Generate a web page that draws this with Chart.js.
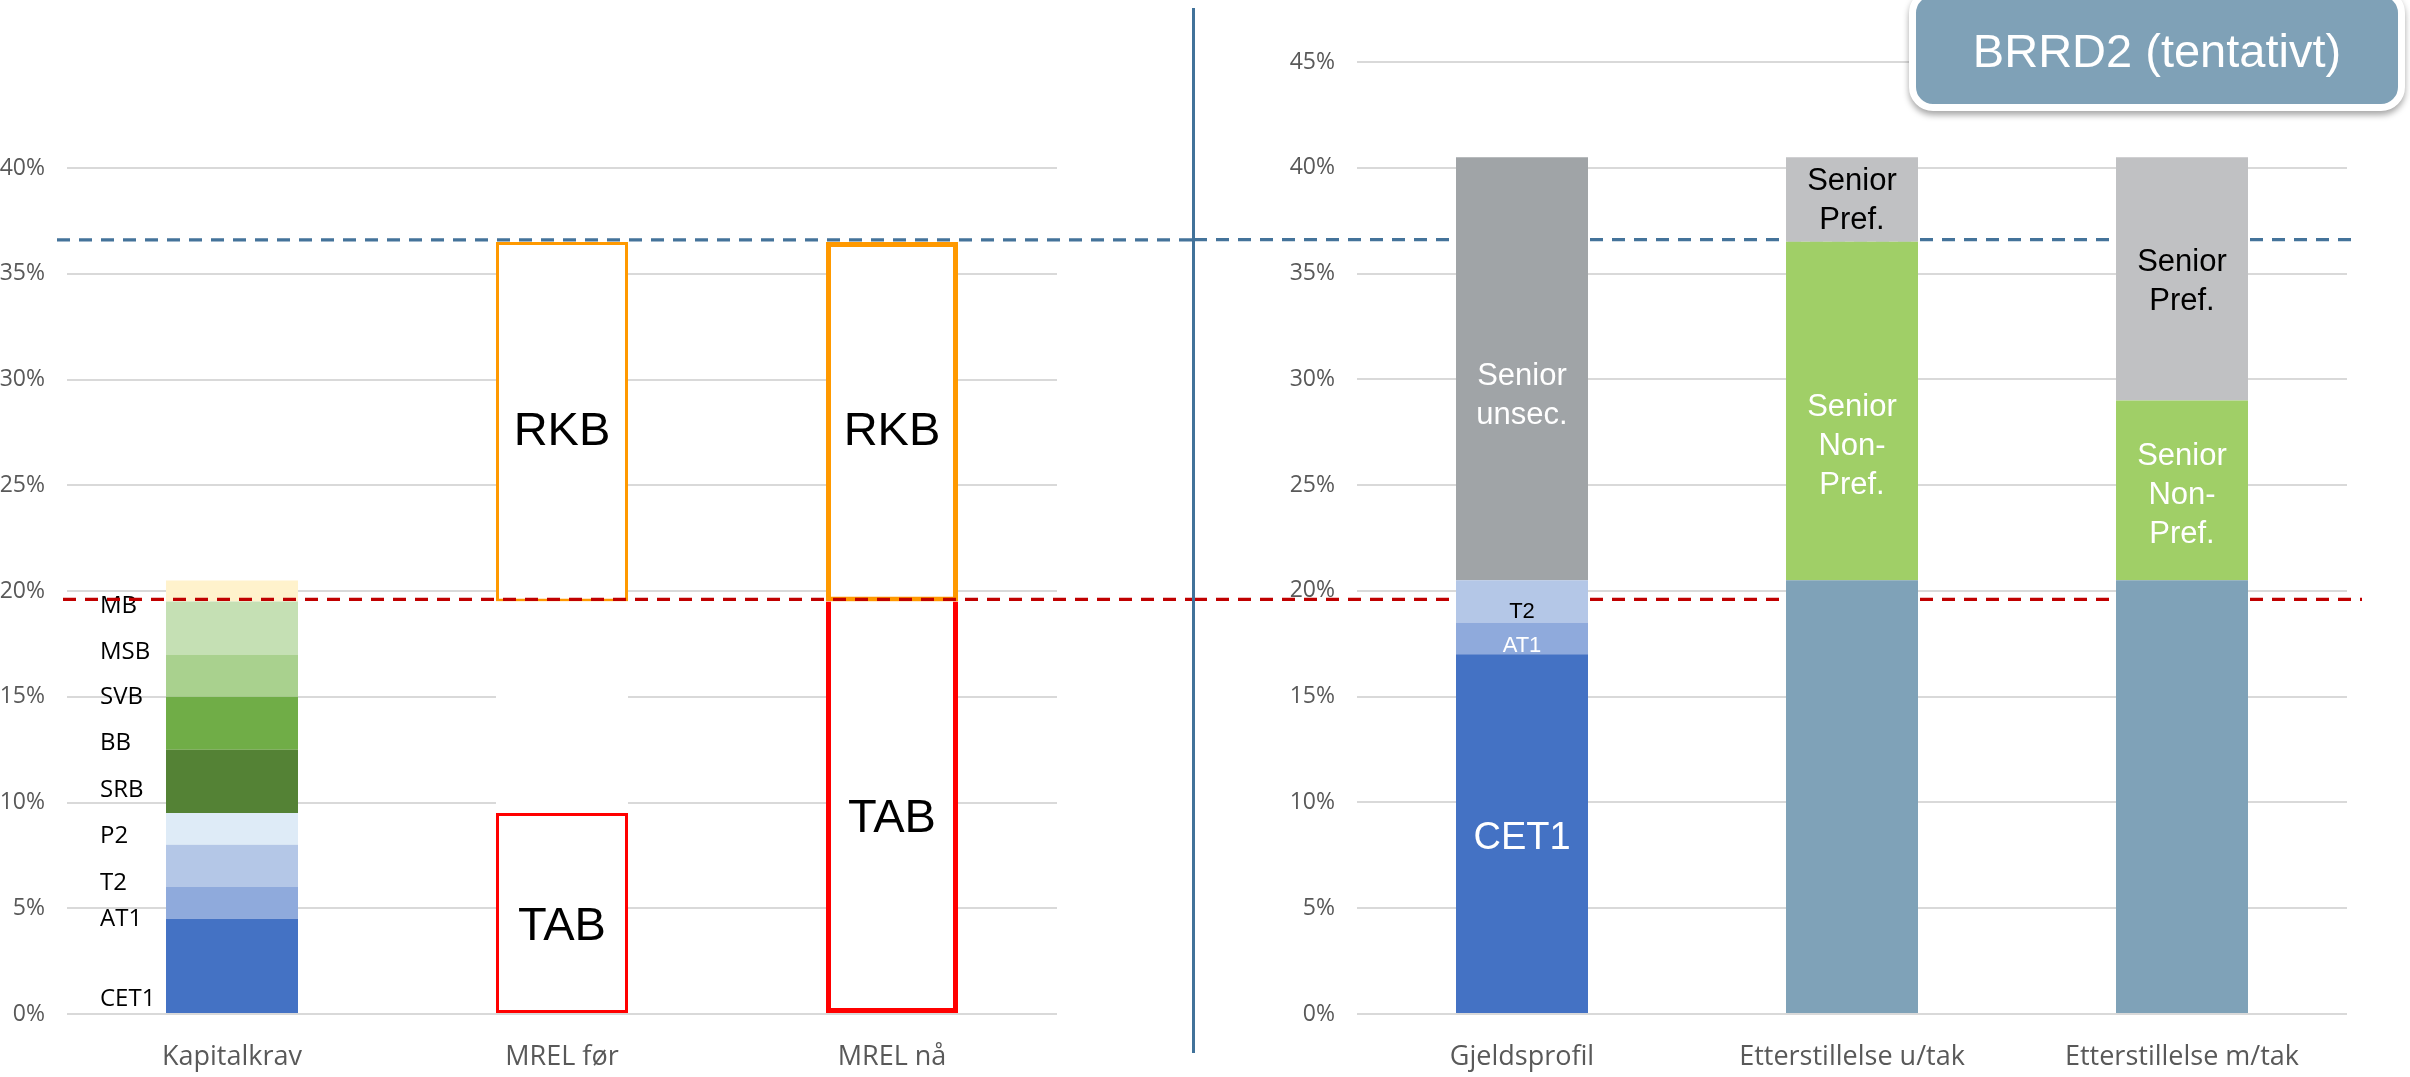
<!DOCTYPE html>
<html>
<head>
<meta charset="utf-8">
<script src="https://cdn.jsdelivr.net/npm/chart.js@4/dist/chart.umd.min.js"></script>
<style>
html,body{margin:0;padding:0;background:#fff;width:2410px;height:1077px;overflow:hidden;position:relative;}
#left{position:absolute;left:0;top:0;}
#right{position:absolute;left:1194px;top:0;}
#divider{position:absolute;left:1192px;top:8px;width:3px;height:1045px;background:#41729A;}
#brrd{position:absolute;left:1909px;top:-11px;width:482px;height:108px;background:#7FA1B7;border:7px solid #fff;border-radius:24px;box-shadow:0 4px 6px rgba(0,0,0,0.35);color:#fff;font-family:"Liberation Sans",Arial,sans-serif;font-size:47px;display:flex;align-items:center;justify-content:center;}
</style>
</head>
<body>
<canvas id="left" width="1194" height="1077"></canvas>
<canvas id="right" width="1216" height="1077"></canvas>
<div id="divider"></div>
<div id="brrd">BRRD2 (tentativt)</div>
<script>
// ---------- DATA ----------
const leftCategories = ['Kapitalkrav', 'MREL før', 'MREL nå'];
const capitalLayers = ['CET1', 'AT1', 'T2', 'P2', 'SRB', 'BB', 'SVB', 'MSB', 'MB'];
const capitalValues = [4.5, 1.5, 2.0, 1.5, 3.0, 2.5, 2.0, 2.5, 1.0];
const capitalLabelAt = [0.7, 4.5, 6.2, 8.4, 10.6, 12.8, 15.0, 17.1, 19.3];
const tabValues = [null, 9.5, 19.5];
const gapValues = [null, 10.0, null];
const rkbValues = [null, 17.0, 17.0];
const tabLabelAt = [null, 4.1, 9.2];
const rkbLabelAt = [null, 27.5, 27.5];

const rightCategories = ['Gjeldsprofil', 'Etterstillelse u/tak', 'Etterstillelse m/tak'];
const debtCET1 = [17.0, null, null];
const debtAT1 = [1.5, null, null];
const debtT2 = [2.0, null, null];
const seniorUnsecured = [20.0, null, null];
const subordinatedBase = [null, 20.5, 20.5];
const seniorNonPref = [null, 16.0, 8.5];
const seniorPref = [null, 4.0, 11.5];

const mrelLine = 36.6;
const capitalLine = 19.6;
const leftMax = 40, rightMax = 45, tickStep = 5;

// ---------- STYLE ----------
const capitalColors = ['#4472C4', '#8FAADC', '#B4C7E7', '#DEEBF7', '#548235', '#70AD47', '#A9D18E', '#C5E0B4', '#FFF2CC'];
const tickFont = {family: '"Open Sans"', size: 23};
const catFont = {family: '"Open Sans"', size: 27};
const gray = '#595959';

function dashed(chart, value, color, x0, x1) {
  const ctx = chart.ctx, y = chart.scales.y.getPixelForValue(value);
  ctx.save();
  ctx.strokeStyle = color; ctx.lineWidth = 3.2; ctx.setLineDash([13, 9]);
  ctx.beginPath(); ctx.moveTo(x0, y); ctx.lineTo(x1, y); ctx.stroke();
  ctx.restore();
}
function drawText(ctx, lines, x, y, color, font, lh, align) {
  ctx.save();
  ctx.fillStyle = color; ctx.font = font; ctx.textAlign = align || 'center'; ctx.textBaseline = 'middle';
  const n = lines.length;
  lines.forEach((t, k) => ctx.fillText(t, x, y + (k - (n - 1) / 2) * lh));
  ctx.restore();
}

function yAxis(max, width) {
  return {
    stacked: true, min: 0, max: max,
    ticks: {stepSize: tickStep, callback: v => v + '%', font: tickFont, color: gray, padding: 22},
    grid: {color: '#D9D9D9', lineWidth: 2, drawTicks: false},
    border: {display: false},
    afterFit: s => { s.width = width; }
  };
}
function xAxis() {
  return {
    stacked: true,
    grid: {display: false, drawTicks: false},
    border: {display: false},
    ticks: {font: catFont, color: gray, padding: 27, maxRotation: 0, autoSkip: false},
    afterFit: s => { s.height = 63; }
  };
}

// ---------- LEFT CHART ----------
const leftDatasets = capitalLayers.map((name, i) => ({
  label: name,
  data: [capitalValues[i], null, null],
  backgroundColor: capitalColors[i],
  borderWidth: 0
}));
leftDatasets.push({
  label: 'TAB', data: tabValues, backgroundColor: '#FFFFFF', borderColor: '#FF0000',
  borderWidth: [0, 3, 5], borderSkipped: c => c.dataIndex === 2 ? 'top' : false
});
leftDatasets.push({label: 'gap', data: gapValues, backgroundColor: '#FFFFFF', borderWidth: 0});
leftDatasets.push({
  label: 'RKB', data: rkbValues, backgroundColor: '#FFFFFF', borderColor: '#FF9900',
  borderWidth: [0, 3, 5], borderSkipped: false
});

new Chart(document.getElementById('left'), {
  type: 'bar',
  data: {labels: leftCategories, datasets: leftDatasets},
  options: {
    responsive: false, animation: false, devicePixelRatio: 1,
    categoryPercentage: 0.4, barPercentage: 1.0,
    layout: {padding: {left: 0, right: 137, top: 168, bottom: 0}},
    plugins: {legend: {display: false}, tooltip: {enabled: false}},
    scales: {x: xAxis(), y: yAxis(leftMax, 67)}
  },
  plugins: [{
    id: 'leftDecor',
    afterDatasetsDraw(chart) {
      const ctx = chart.ctx, xs = chart.scales.x, ys = chart.scales.y;
      const bar = chart.getDatasetMeta(0).data[0];
      const lx = bar.x - bar.width / 2 - 66;
      capitalLayers.forEach((name, i) => {
        drawText(ctx, [name], lx, ys.getPixelForValue(capitalLabelAt[i]), '#000', '24px "Open Sans"', 0, 'left');
      });
      leftCategories.forEach((c, i) => {
        if (tabLabelAt[i] != null) drawText(ctx, ['TAB'], xs.getPixelForValue(i), ys.getPixelForValue(tabLabelAt[i]), '#000', '47px "Liberation Sans"', 0);
        if (rkbLabelAt[i] != null) drawText(ctx, ['RKB'], xs.getPixelForValue(i), ys.getPixelForValue(rkbLabelAt[i]), '#000', '47px "Liberation Sans"', 0);
      });
    },
    afterDraw(chart) {
      const a = chart.chartArea;
      dashed(chart, mrelLine, '#44739A', a.left - 10, chart.width);
      dashed(chart, capitalLine, '#C00000', a.left - 4, chart.width);
    }
  }]
});

// ---------- RIGHT CHART ----------
const rightDatasets = [
  {label: 'CET1', data: debtCET1, backgroundColor: '#4472C4'},
  {label: 'AT1', data: debtAT1, backgroundColor: '#8FAADC'},
  {label: 'T2', data: debtT2, backgroundColor: '#B4C7E7'},
  {label: 'Senior unsec.', data: seniorUnsecured, backgroundColor: '#A0A4A7'},
  {label: 'Etterstilt', data: subordinatedBase, backgroundColor: '#7FA2B8'},
  {label: 'Senior Non-Pref.', data: seniorNonPref, backgroundColor: '#A0CF67'},
  {label: 'Senior Pref.', data: seniorPref, backgroundColor: '#C0C1C3'}
].map(d => Object.assign(d, {borderWidth: 0}));

const rightTexts = [
  {i: 0, y: 8.3, lines: ['CET1'], color: '#fff', font: '38px "Liberation Sans"'},
  {i: 0, y: 17.4, lines: ['AT1'], color: '#fff', font: '22px "Liberation Sans"'},
  {i: 0, y: 19.0, lines: ['T2'], color: '#000', font: '22px "Liberation Sans"'},
  {i: 0, y: 29.2, lines: ['Senior', 'unsec.'], color: '#fff', font: '31px "Liberation Sans"'},
  {i: 1, y: 38.45, lines: ['Senior', 'Pref.'], color: '#000', font: '31px "Liberation Sans"'},
  {i: 1, y: 26.85, lines: ['Senior', 'Non-', 'Pref.'], color: '#fff', font: '31px "Liberation Sans"'},
  {i: 2, y: 34.6, lines: ['Senior', 'Pref.'], color: '#000', font: '31px "Liberation Sans"'},
  {i: 2, y: 24.5, lines: ['Senior', 'Non-', 'Pref.'], color: '#fff', font: '31px "Liberation Sans"'}
];

new Chart(document.getElementById('right'), {
  type: 'bar',
  data: {labels: rightCategories, datasets: rightDatasets},
  options: {
    responsive: false, animation: false, devicePixelRatio: 1,
    categoryPercentage: 0.4, barPercentage: 1.0,
    layout: {padding: {left: 0, right: 63, top: 62, bottom: 0}},
    plugins: {legend: {display: false}, tooltip: {enabled: false}},
    scales: {x: xAxis(), y: yAxis(rightMax, 163)}
  },
  plugins: [{
    id: 'rightDecor',
    beforeDatasetsDraw(chart) {
      const a = chart.chartArea;
      dashed(chart, mrelLine, '#44739A', 0, a.right + 8);
      dashed(chart, capitalLine, '#C00000', 0, a.right + 15);
    },
    afterDatasetsDraw(chart) {
      const ctx = chart.ctx, xs = chart.scales.x, ys = chart.scales.y;
      rightTexts.forEach(t => drawText(ctx, t.lines, xs.getPixelForValue(t.i), ys.getPixelForValue(t.y), t.color, t.font, 39));
    }
  }]
});
</script>
</body>
</html>
